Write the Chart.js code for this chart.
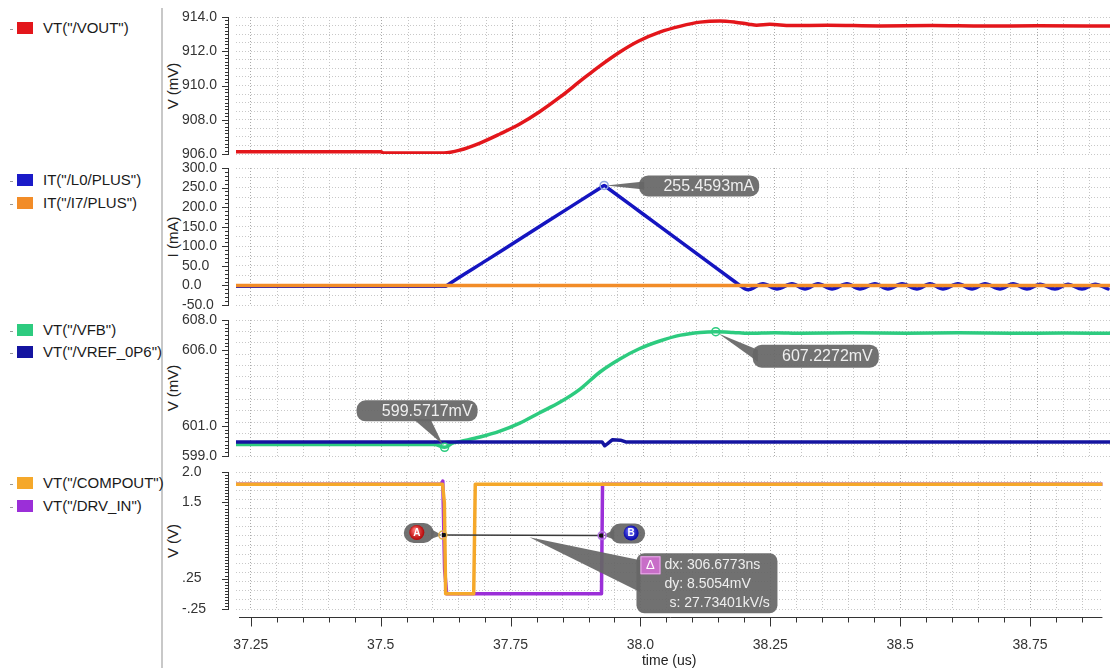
<!DOCTYPE html>
<html><head><meta charset="utf-8">
<script src="https://cdn.jsdelivr.net/npm/chart.js@4"></script>
<style>
body{margin:0;width:1110px;height:671px;background:#fff;position:relative;overflow:hidden;font-family:"Liberation Sans",Arial,sans-serif;}
canvas{position:absolute;}
.sep{position:absolute;left:161px;top:8px;width:2px;height:660px;background:#c8c8c8;}
.lg{position:absolute;left:10px;font-size:15px;color:#1a1a1a;height:18px;line-height:18px;white-space:nowrap;}
.lg i{display:inline-block;width:3px;height:1px;background:#999;vertical-align:middle;margin-right:4px;}
.lg b{display:inline-block;width:16px;height:12px;vertical-align:middle;margin-right:10px;margin-top:-2px;}
.yt{position:absolute;left:172px;font-size:15px;color:#222;transform:translate(-50%,-50%) rotate(-90deg);white-space:nowrap;}
</style></head><body>
<div class="sep"></div>
<div class="lg" style="top:19px"><i></i><b style="background:#e3161b"></b>VT("/VOUT")</div>
<div class="lg" style="top:171px"><i></i><b style="background:#1a1ac8"></b>IT("/L0/PLUS")</div>
<div class="lg" style="top:194px"><i></i><b style="background:#f28c28"></b>IT("/I7/PLUS")</div>
<div class="lg" style="top:321px"><i></i><b style="background:#2dcb7f"></b>VT("/VFB")</div>
<div class="lg" style="top:343px"><i></i><b style="background:#1414a0"></b>VT("/VREF_0P6")</div>
<div class="lg" style="top:474px"><i></i><b style="background:#f5a82a"></b>VT("/COMPOUT")</div>
<div class="lg" style="top:497px"><i></i><b style="background:#9b2fd8"></b>VT("/DRV_IN")</div>
<div class="yt" style="top:86px">V (mV)</div>
<div class="yt" style="top:237px">I (mA)</div>
<div class="yt" style="top:388px">V (mV)</div>
<div class="yt" style="top:541px">V (V)</div>

<canvas id="c1" width="928" height="161" style="left:182px;top:5px"></canvas>
<canvas id="c2" width="928" height="161" style="left:182px;top:156px"></canvas>
<canvas id="c3" width="928" height="160" style="left:182px;top:308px"></canvas>
<canvas id="c4" width="928" height="211" style="left:182px;top:460px"></canvas>
<script>
// ---------------- DATA ----------------
const timeRange = [37.2214, 38.8893];
const xTickValues = [37.25, 37.5, 37.75, 38.0, 38.25, 38.5, 38.75];
const xTickLabels = ['37.25', '37.5', '37.75', '38.0', '38.25', '38.5', '38.75'];

// Panel 1: VT("/VOUT") (mV)
const voutT = [37.2214, 37.498, 37.503, 37.618, 37.649, 37.687, 37.725, 37.763, 37.800, 37.840, 37.878, 37.916, 37.954, 37.990, 38.030, 38.070, 38.107, 38.145, 38.174, 38.200, 38.215, 38.240, 38.280, 38.350, 38.450, 38.550, 38.650, 38.750, 38.8893];
const voutV = [906.13, 906.13, 906.06, 906.06, 906.23, 906.64, 907.17, 907.75, 908.45, 909.33, 910.25, 911.15, 911.96, 912.60, 913.12, 913.47, 913.70, 913.77, 913.70, 913.58, 913.52, 913.57, 913.50, 913.52, 913.48, 913.50, 913.47, 913.49, 913.47];
const p1Range = [906, 914];
const p1TickValues = [906, 908, 910, 912, 914];
const p1TickLabels = ['906.0', '908.0', '910.0', '912.0', '914.0'];

// Panel 2: IT("/L0/PLUS"), IT("/I7/PLUS") (mA)
const l0T = [37.2214, 37.622, 37.624, 37.700, 37.773, 37.850, 37.918, 37.924, 37.930, 38.000, 38.100, 38.176, 38.183,
  38.1985, 38.2271, 38.2538, 38.2824, 38.3073, 38.3321, 38.3588, 38.3874, 38.4122, 38.4408,
  38.4656, 38.4924, 38.5210, 38.5458, 38.5706, 38.5992, 38.6260, 38.6508, 38.6794, 38.7042,
  38.7309, 38.7557, 38.7844, 38.8092, 38.8359, 38.8607, 38.8855];
const l0V = [-2, -2, 0, 64.7, 126.9, 192.4, 250.3, 255.4593, 249.5, 180.5, 81.9, 6.9, 0,
  -11, 4, -9, 4, -9, 4, -9, 4, -9, 4,
  -9, 4, -9, 4, -9, 4, -9, 4, -9, 4,
  -9, 3, -9, 3, -9, 3, -9];
const i7T = [37.2214, 38.8893];
const i7V = [0, 0];
const p2Range = [-50, 300];
const p2TickValues = [-50, 0, 50, 100, 150, 200, 250, 300];
const p2TickLabels = ['-50.0', '0.0', '50.0', '100.0', '150.0', '200.0', '250.0', '300.0'];

// Panel 3: VT("/VFB"), VT("/VREF_0P6") (mV)
const vfbT = [37.2214, 37.600, 37.6195, 37.635, 37.650, 37.687, 37.725, 37.763, 37.800, 37.840, 37.878, 37.916, 37.954, 37.990, 38.030, 38.070, 38.107, 38.137, 38.170, 38.200, 38.250, 38.300, 38.400, 38.500, 38.600, 38.700, 38.800, 38.8893];
const vfbV = [599.76, 599.76, 599.5717, 599.85, 599.97, 600.26, 600.65, 601.18, 601.85, 602.57, 603.43, 604.56, 605.42, 606.08, 606.61, 607.00, 607.18, 607.2272, 607.18, 607.12, 607.16, 607.12, 607.15, 607.12, 607.15, 607.12, 607.14, 607.12];
const vrefT = [37.2214, 37.920, 37.925, 37.930, 37.940, 37.955, 37.965, 38.8893];
const vrefV = [599.93, 599.93, 599.68, 599.80, 600.08, 600.05, 599.93, 599.93];
const p3Range = [599, 608];
const p3TickValues = [599, 601, 606, 608];
const p3TickLabels = ['599.0', '601.0', '606.0', '608.0'];

// Panel 4: VT("/COMPOUT"), VT("/DRV_IN") (V)
const compT = [37.2214, 37.619, 37.6225, 37.625, 37.679, 37.682, 38.8893];
const compV = [1.8, 1.8, 1.5, 0.0, 0.0, 1.8, 1.8];
const drvT = [37.2214, 37.617, 37.6195, 37.623, 37.627, 37.925, 37.927, 38.8893];
const drvV = [1.8, 1.8, 1.85, 0.4, 0.0, 0.0, 1.8, 1.8];
const p4Range = [-0.25, 2.0];
const p4TickValues = [-0.25, 0.25, 1.5, 2.0];
const p4TickLabels = ['-.25', '.25', '1.5', '2.0'];

// Markers
const peakL0 = {t: 37.924, v: 255.4593};
const vfbMin = {t: 37.6195, v: 599.5717};
const vfbMax = {t: 38.137, v: 607.2272};
const markerA = {t: 37.6195, v: 0.965};
const markerB = {t: 37.9262, v: 0.9565};
const deltaTexts = ['dx: 306.6773ns', 'dy: 8.5054mV', 's: 27.73401kV/s'];

// ---------------- HELPERS ----------------
Chart.defaults.font.family = '"Liberation Sans", Arial, sans-serif';
Chart.defaults.font.size = 14;
Chart.defaults.color = '#333';
const pts = (T, V) => T.map((t, i) => ({x: t, y: V[i]}));
const near = (a, b) => Math.abs(a - b) < 1e-6;
const BUB = 'rgba(102,102,102,0.93)';

function rr(ctx, x, y, w, h, r) {
  ctx.beginPath(); ctx.moveTo(x + r, y); ctx.lineTo(x + w - r, y);
  ctx.arcTo(x + w, y, x + w, y + r, r); ctx.lineTo(x + w, y + h - r);
  ctx.arcTo(x + w, y + h, x + w - r, y + h, r); ctx.lineTo(x + r, y + h);
  ctx.arcTo(x, y + h, x, y + h - r, r); ctx.lineTo(x, y + r);
  ctx.arcTo(x, y, x + r, y, r); ctx.closePath();
}
function tri(ctx, p) {
  ctx.beginPath(); ctx.moveTo(p[0][0], p[0][1]);
  for (let i = 1; i < p.length; i++) ctx.lineTo(p[i][0], p[i][1]);
  ctx.closePath(); ctx.fill();
}
function ring(ctx, x, y, r, col) {
  ctx.save(); ctx.strokeStyle = col; ctx.lineWidth = 1.5;
  ctx.beginPath(); ctx.arc(x, y, r, 0, Math.PI * 2); ctx.stroke(); ctx.restore();
}
function badge(ctx, cx, cy, c1, c2, letter) {
  const g = ctx.createRadialGradient(cx - 2, cy - 3, 1, cx, cy, 8);
  g.addColorStop(0, c1); g.addColorStop(1, c2);
  ctx.fillStyle = g; ctx.beginPath(); ctx.arc(cx, cy, 7.5, 0, Math.PI * 2); ctx.fill();
  ctx.fillStyle = '#fff'; ctx.font = 'bold 10px "Liberation Sans", Arial';
  ctx.textAlign = 'center'; ctx.textBaseline = 'middle'; ctx.fillText(letter, cx, cy + 0.5);
}

function rulerPlugin(majors, minorStep, withX) {
  return {
    id: 'ruler',
    afterDraw(chart) {
      const ys = chart.scales.y, ctx = chart.ctx, ca = chart.chartArea;
      const x0 = ca.left - 8 + 0.5;
      ctx.save(); ctx.strokeStyle = '#333'; ctx.lineWidth = 1; ctx.beginPath();
      ctx.moveTo(x0, Math.round(ys.getPixelForValue(ys.max))); ctx.lineTo(x0, Math.round(ys.getPixelForValue(ys.min)) + 1);
      const n = Math.round((ys.max - ys.min) / minorStep);
      for (let i = 0; i <= n; i++) {
        const py = Math.round(ys.getPixelForValue(ys.min + i * minorStep)) + 0.5;
        ctx.moveTo(x0 - 3.5, py); ctx.lineTo(x0, py);
      }
      majors.forEach(v => {
        const py = Math.round(ys.getPixelForValue(v)) + 0.5;
        ctx.moveTo(x0 - 6.5, py); ctx.lineTo(x0, py);
      });
      if (withX) {
        const xs = chart.scales.x, y0 = Math.round(ca.bottom) + 8.5;
        ctx.moveTo(ca.left + 3, y0); ctx.lineTo(ca.right, y0);
        xs.ticks.forEach(t => {
          const px = Math.round(xs.getPixelForValue(t.value)) + 0.5;
          const major = xTickValues.some(v => near(v, t.value));
          ctx.moveTo(px, y0); ctx.lineTo(px, y0 + (major ? 9 : 5));
        });
      }
      ctx.stroke(); ctx.restore();
    }
  };
}

function xScale(bottom) {
  const s = {
    type: 'linear', min: timeRange[0], max: timeRange[1],
    afterBuildTicks(sc) {
      const t = [];
      for (let i = 0; i <= 32; i++) t.push({value: Math.round((37.25 + i * 0.05) * 1000) / 1000});
      sc.ticks = t;
    },
    grid: {
      drawTicks: false,
      color: c => xTickValues.some(v => near(v, c.tick.value)) ? '#a9a9a9' : '#c4c4c4'
    },
    border: {display: false, dash: [1, 2]},
    ticks: {display: bottom, autoSkip: false, maxRotation: 0, padding: 28,
      color: '#333', font: {size: 14},
      callback: v => { const i = xTickValues.findIndex(x => near(x, v)); return i >= 0 ? xTickLabels[i] : ''; }},
    afterFit(sc) { sc.height = bottom ? 62 : 0; }
  };
  if (bottom) s.title = {display: true, text: 'time (us)', color: '#222', font: {size: 14}, padding: {top: 0, bottom: 1}};
  return s;
}
function yScale(range, tv, tl, gridStep) {
  return {
    type: 'linear', min: range[0], max: range[1],
    afterBuildTicks(sc) {
      const vals = [];
      const n = Math.round((range[1] - range[0]) / gridStep);
      for (let i = 0; i <= n; i++) vals.push(range[0] + i * gridStep);
      const all = vals.slice();
      tv.forEach(v => { if (!all.some(a => near(a, v))) all.push(v); });
      all.sort((a, b) => a - b);
      sc.ticks = all.map(v => ({value: v, grid: vals.some(a => near(a, v))}));
    },
    grid: {drawTicks: false, color: c => (c.tick && c.tick.grid) ? '#c8c8c8' : 'rgba(0,0,0,0)'},
    border: {display: false, dash: [1, 2]},
    ticks: {autoSkip: false, crossAlign: 'far', color: '#333', font: {size: 14},
      callback: v => { const i = tv.findIndex(x => near(x, v)); return i >= 0 ? tl[i] : ''; }},
    afterFit(sc) { sc.width = 54; }
  };
}
function ds(T, V, color, order, mono) {
  return {data: pts(T, V), borderColor: color, borderWidth: 3.5, pointRadius: 0, order: order,
    cubicInterpolationMode: mono ? 'monotone' : 'default', tension: mono ? 0.4 : 0,
    borderJoinStyle: 'round', borderCapStyle: 'round'};
}
function baseOpts(range, tv, tl, gridStep, bottom) {
  return {
    responsive: false, animation: false, events: [],
    layout: {padding: {top: 12, bottom: bottom ? 0 : 12, left: 0, right: 0}},
    plugins: {legend: {display: false}, tooltip: {enabled: false}},
    scales: {x: xScale(bottom), y: yScale(range, tv, tl, gridStep)}
  };
}

// ---------------- PANEL 1 ----------------
new Chart(document.getElementById('c1'), {
  type: 'line',
  data: {datasets: [ds(voutT, voutV, '#e3161b', 0, true)]},
  options: baseOpts(p1Range, p1TickValues, p1TickLabels, 0.5, false),
  plugins: [rulerPlugin(p1TickValues, 0.2, false)]
});

// ---------------- PANEL 2 ----------------
new Chart(document.getElementById('c2'), {
  type: 'line',
  data: {datasets: [ds(l0T, l0V, '#1515c0', 1, true), ds(i7T, i7V, '#f28c28', 0, false)]},
  options: baseOpts(p2Range, p2TickValues, p2TickLabels, 25, false),
  plugins: [rulerPlugin(p2TickValues, 10, false), {
    id: 'ann2',
    afterDraw(chart) {
      const ctx = chart.ctx, xs = chart.scales.x, ys = chart.scales.y;
      const px = xs.getPixelForValue(peakL0.t), py = ys.getPixelForValue(peakL0.v);
      ctx.save();
      ctx.fillStyle = BUB;
      tri(ctx, [[px + 2, py], [px + 40, py - 4], [px + 40, py + 4]]);
      rr(ctx, px + 35, py - 10, 120, 21, 9); ctx.fill();
      ctx.fillStyle = '#efefef'; ctx.font = '16px "Liberation Sans", Arial';
      ctx.textAlign = 'right'; ctx.textBaseline = 'middle';
      ctx.fillText(peakL0.v.toFixed(4) + 'mA', px + 35 + 120 - 5, py + 1);
      ctx.restore();
      ring(ctx, px, py, 4, '#8ea4dc');
    }
  }]
});

// ---------------- PANEL 3 ----------------
new Chart(document.getElementById('c3'), {
  type: 'line',
  data: {datasets: [ds(vfbT, vfbV, '#2dcb7f', 1, true), ds(vrefT, vrefV, '#1414a0', 0, false)]},
  options: baseOpts(p3Range, p3TickValues, p3TickLabels, 0.75, false),
  plugins: [rulerPlugin(p3TickValues, 0.25, false), {
    id: 'ann3',
    afterDraw(chart) {
      const ctx = chart.ctx, xs = chart.scales.x, ys = chart.scales.y;
      ctx.save();
      ctx.font = '16px "Liberation Sans", Arial'; ctx.textAlign = 'right'; ctx.textBaseline = 'middle';
      // min marker
      let px = xs.getPixelForValue(vfbMin.t), py = ys.getPixelForValue(vfbMin.v);
      ctx.fillStyle = BUB;
      tri(ctx, [[px - 2, py - 3], [px - 31, py - 28], [px - 14, py - 28]]);
      rr(ctx, px - 88, py - 47, 121, 21, 9); ctx.fill();
      ctx.fillStyle = '#efefef'; ctx.fillText(vfbMin.v.toFixed(4) + 'mV', px - 88 + 121 - 5, py - 36);
      ring(ctx, px, py, 4, '#2dcb7f');
      // max marker
      px = xs.getPixelForValue(vfbMax.t); py = ys.getPixelForValue(vfbMax.v);
      ctx.fillStyle = BUB;
      tri(ctx, [[px + 3, py + 2], [px + 42, py + 18], [px + 42, py + 30]]);
      rr(ctx, px + 37, py + 13, 126, 23, 9); ctx.fill();
      ctx.fillStyle = '#efefef'; ctx.fillText(vfbMax.v.toFixed(4) + 'mV', px + 37 + 126 - 6, py + 25);
      ring(ctx, px, py, 4, '#2dcb7f');
      ctx.restore();
    }
  }]
});

// ---------------- PANEL 4 ----------------
new Chart(document.getElementById('c4'), {
  type: 'line',
  data: {datasets: [ds(drvT, drvV, '#9b2fd8', 1, false), ds(compT, compV, '#f5a82a', 0, false)]},
  options: baseOpts(p4Range, p4TickValues, p4TickLabels, 0.15, true),
  plugins: [rulerPlugin(p4TickValues, 0.05, true), {
    id: 'ann4',
    afterDraw(chart) {
      const ctx = chart.ctx, xs = chart.scales.x, ys = chart.scales.y;
      const ax = xs.getPixelForValue(markerA.t), ay = ys.getPixelForValue(markerA.v);
      const bx = xs.getPixelForValue(markerB.t), by = ys.getPixelForValue(markerB.v);
      const mx = (ax + bx) / 2, my = (ay + by) / 2;
      ctx.save();
      // delta bubble
      ctx.fillStyle = BUB;
      tri(ctx, [[mx + 7, my + 2], [mx + 118, my + 25], [mx + 118, my + 57]]);
      rr(ctx, mx + 114, my + 18, 141, 60, 8); ctx.fill();
      const bl = mx + 114, bt = my + 18;
      ctx.fillStyle = '#c86ec8'; ctx.fillRect(bl + 4, bt + 3, 20, 18);
      ctx.strokeStyle = '#eab0ea'; ctx.lineWidth = 1; ctx.strokeRect(bl + 4.5, bt + 3.5, 19, 17);
      ctx.fillStyle = '#fff'; ctx.font = '13px "Liberation Sans", Arial'; ctx.textAlign = 'center'; ctx.textBaseline = 'middle';
      ctx.fillText('\u0394', bl + 14, bt + 12.5);
      ctx.fillStyle = '#efefef'; ctx.font = '14px "Liberation Sans", Arial'; ctx.textAlign = 'left';
      ctx.fillText(deltaTexts[0], bl + 28, bt + 12);
      ctx.fillText(deltaTexts[1], bl + 28, bt + 31);
      ctx.fillText(deltaTexts[2], bl + 33, bt + 50);
      // A badge
      ctx.fillStyle = BUB;
      tri(ctx, [[ax - 1, ay], [ax - 12, ay - 6], [ax - 12, ay + 4]]);
      rr(ctx, ax - 39, ay - 12, 30, 20, 10); ctx.fill();
      badge(ctx, ax - 26, ay - 2.5, '#ff7070', '#b00000', 'A');
      // B badge
      ctx.fillStyle = BUB;
      tri(ctx, [[bx + 1, by], [bx + 12, by - 6], [bx + 12, by + 4]]);
      rr(ctx, bx + 8, by - 12, 35, 20, 10); ctx.fill();
      badge(ctx, bx + 29, by - 2.5, '#6a6aff', '#0000a0', 'B');
      // A-B line
      ctx.strokeStyle = '#3a3a3a'; ctx.lineWidth = 1.5;
      ctx.beginPath(); ctx.moveTo(ax, ay); ctx.lineTo(bx, by); ctx.stroke();
      ctx.fillStyle = '#111';
      ctx.fillRect(ax - 1, ay - 2, 4, 4); ctx.fillRect(bx - 3, by - 2, 4, 4);
      ctx.restore();
      ring(ctx, ax, ay, 4, '#e0b050');
      ring(ctx, bx, by, 4, '#b070e0');
    }
  }]
});
</script>
</body></html>
